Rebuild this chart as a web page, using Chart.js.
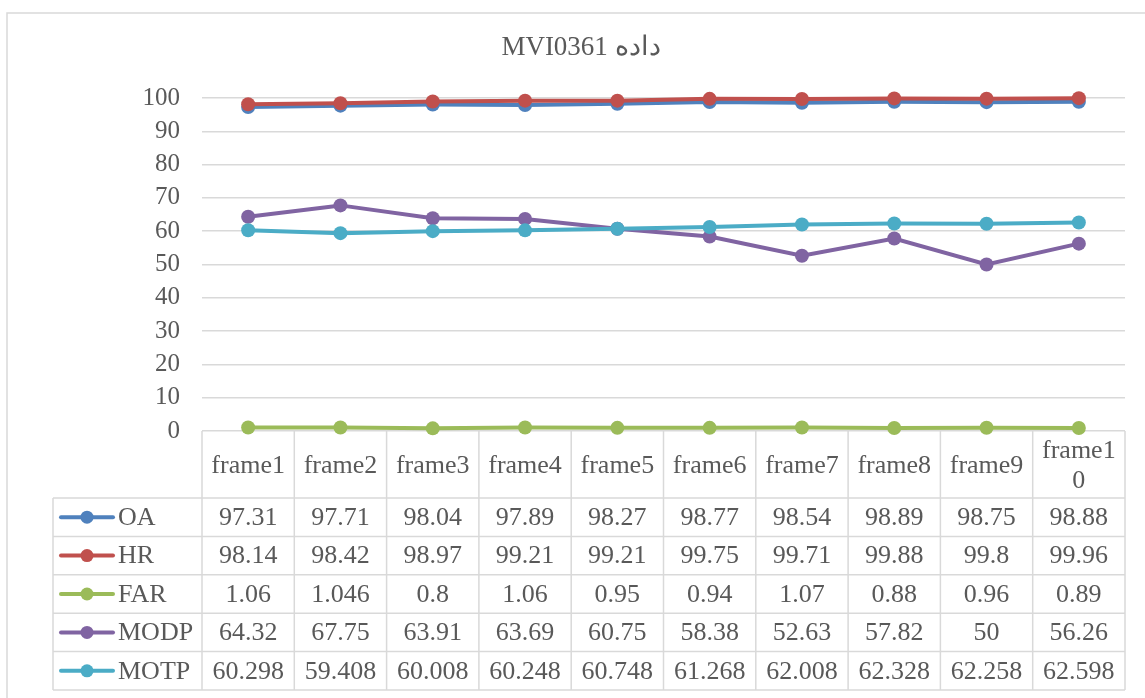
<!DOCTYPE html>
<html>
<head>
<meta charset="utf-8">
<script src="https://cdn.jsdelivr.net/npm/chart.js@4"></script>
<style>
  body { margin: 0; background: #fff; }
  canvas { display: block; }
</style>
</head>
<body>
<canvas id="chart" width="1145" height="698"></canvas>
<script>
const frames = ["frame1", "frame2", "frame3", "frame4", "frame5", "frame6", "frame7", "frame8", "frame9", "frame10"];
const oa = [97.31, 97.71, 98.04, 97.89, 98.27, 98.77, 98.54, 98.89, 98.75, 98.88];
const hr = [98.14, 98.42, 98.97, 99.21, 99.21, 99.75, 99.71, 99.88, 99.8, 99.96];
const far = [1.06, 1.046, 0.8, 1.06, 0.95, 0.94, 1.07, 0.88, 0.96, 0.89];
const modp = [64.32, 67.75, 63.91, 63.69, 60.75, 58.38, 52.63, 57.82, 50, 56.26];
const motp = [60.298, 59.408, 60.008, 60.248, 60.748, 61.268, 62.008, 62.328, 62.258, 62.598];
const yTicks = [0, 10, 20, 30, 40, 50, 60, 70, 80, 90, 100];
const chartTitle = "MVI0361 داده";

const series = [
  { label: "OA", data: oa, color: "#4F81BD" },
  { label: "HR", data: hr, color: "#C0504D" },
  { label: "FAR", data: far, color: "#9BBB59" },
  { label: "MODP", data: modp, color: "#8064A2" },
  { label: "MOTP", data: motp, color: "#4BACC6" },
];

const FONT = '"Liberation Serif", "Times New Roman", serif';
const TEXT = "#595959";
const GRID = "#d9d9d9";

// header cells wrap like Excel does in the narrow last column
const headerLines = (label, width, ctx) => {
  if (ctx.measureText(label).width <= width - 8) return [label];
  return [label.slice(0, -1), label.slice(-1)];
};

const tablePlugin = {
  id: "dataTable",
  afterDraw(chart) {
    const { ctx, chartArea } = chart;
    const xs = chart.scales.x;
    const colW = chartArea.width / frames.length;
    const top = chartArea.bottom;
    const headerH = 67;
    const rowH = 38.4;
    const legendLeft = 53;
    const tableBottom = top + headerH + rowH * series.length;

    ctx.save();

    // outer frame
    ctx.strokeStyle = GRID;
    ctx.lineWidth = 1.5;
    ctx.beginPath();
    ctx.moveTo(7, 700);
    ctx.lineTo(7, 13);
    ctx.lineTo(1150, 13);
    ctx.stroke();

    // title
    ctx.fillStyle = TEXT;
    ctx.font = "27px " + FONT;
    ctx.textAlign = "center";
    ctx.textBaseline = "middle";
    ctx.direction = "ltr";
    ctx.fillText(chartTitle, 581, 48);

    // grid of table
    ctx.strokeStyle = GRID;
    ctx.lineWidth = 1.5;
    ctx.beginPath();
    for (let i = 0; i <= frames.length; i++) {
      const x = chartArea.left + i * colW;
      ctx.moveTo(x, top);
      ctx.lineTo(x, tableBottom);
    }
    ctx.moveTo(legendLeft, top + headerH);
    ctx.lineTo(legendLeft, tableBottom);
    for (let r = 0; r <= series.length; r++) {
      const y = top + headerH + r * rowH;
      ctx.moveTo(legendLeft, y);
      ctx.lineTo(chartArea.right, y);
    }
    ctx.stroke();

    // header
    ctx.font = "26px " + FONT;
    ctx.fillStyle = TEXT;
    frames.forEach((f, i) => {
      const cx = xs.getPixelForValue(i);
      const lines = headerLines(f, colW, ctx);
      const lh = 30;
      const y0 = top + headerH / 2 - ((lines.length - 1) * lh) / 2 + 2;
      lines.forEach((ln, k) => ctx.fillText(ln, cx, y0 + k * lh));
    });

    // rows
    series.forEach((s, r) => {
      const cy = top + headerH + r * rowH + rowH / 2 + 1;
      // legend key
      ctx.strokeStyle = s.color;
      ctx.lineWidth = 4;
      ctx.lineCap = "round";
      ctx.beginPath();
      ctx.moveTo(61, cy - 1);
      ctx.lineTo(113, cy - 1);
      ctx.stroke();
      ctx.fillStyle = s.color;
      ctx.beginPath();
      ctx.arc(87, cy - 1, 6.5, 0, Math.PI * 2);
      ctx.fill();
      ctx.fillStyle = TEXT;
      ctx.textAlign = "left";
      ctx.fillText(s.label, 118, cy);
      ctx.textAlign = "center";
      s.data.forEach((v, i) => {
        ctx.fillText(String(v), xs.getPixelForValue(i), cy);
      });
    });

    ctx.restore();
  },
};

new Chart(document.getElementById("chart"), {
  type: "line",
  data: {
    labels: frames,
    datasets: series.map((s, i) => ({
      label: s.label,
      data: s.data,
      borderColor: s.color,
      backgroundColor: s.color,
      borderWidth: 4,
      pointRadius: 7,
      pointBorderWidth: 0,
      pointBackgroundColor: s.color,
      tension: 0,
      clip: false,
      order: series.length - i,
    })),
  },
  options: {
    responsive: false,
    animation: false,
    events: [],
    layout: { padding: { left: 7, top: 98, right: 20, bottom: 267 } },
    plugins: {
      legend: { display: false },
      title: { display: false },
      tooltip: { enabled: false },
    },
    scales: {
      x: {
        display: false,
        offset: true,
      },
      y: {
        min: 0,
        max: 100,
        afterFit: (scale) => { scale.width = 195; },
        afterBuildTicks: (scale) => { scale.ticks = yTicks.map((v) => ({ value: v })); },
        border: { display: false },
        grid: { color: GRID, lineWidth: 1.5, drawTicks: false },
        ticks: {
          padding: 22,
          color: TEXT,
          font: { family: FONT, size: 25 },
        },
      },
    },
  },
  plugins: [tablePlugin],
});
</script>
</body>
</html>
